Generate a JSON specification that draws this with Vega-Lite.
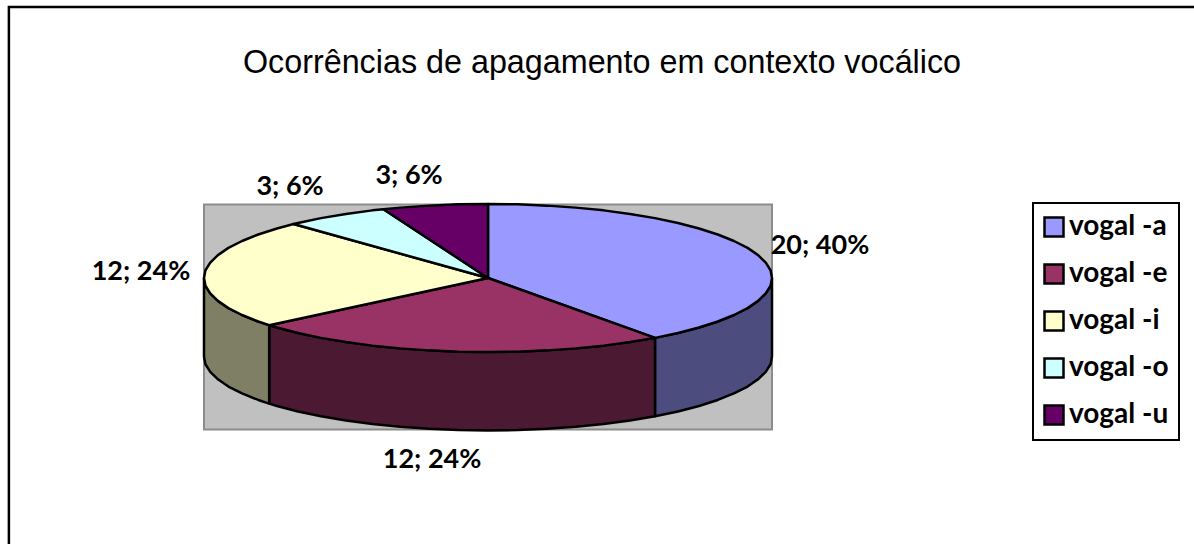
{"$schema":"https://vega.github.io/schema/vega-lite/v6.json","width":1194,"height":544,"autosize":{"type":"fit","contains":"padding"},"padding":0,"background":"white","config":{"view":{"stroke":null},"legend":{"strokeWidth":2}},
"title":{"text":"Ocorrências de apagamento em contexto vocálico","font":"Liberation Sans","fontSize":32.3,"fontWeight":"normal","color":"#000000","anchor":"middle","frame":"group","baseline":"bottom","offset":-72,"dx":5,"dy":40},
"datasets":{
"frame":[{"x0":-1.687,"x1":2.55,"y0":3.662,"y1":-3.8}],
"wall":[{"x0":-1,"x1":1,"y0":0.993,"y1":-2.047}],
"labels":[{"slice":"vogal -a","label":"20; 40%","x":1.169,"y":0.432},{"slice":"vogal -e","label":"12; 24%","x":-0.197,"y":-2.459},{"slice":"vogal -i","label":"12; 24%","x":-1.222,"y":0.081},{"slice":"vogal -o","label":"3; 6%","x":-0.697,"y":1.23},{"slice":"vogal -u","label":"3; 6%","x":-0.278,"y":1.378}],
"side":[
{"s":"vogal -a","i":1,"x":1,"y":0},{"s":"vogal -a","i":2,"x":0.995,"y":-0.105},{"s":"vogal -a","i":3,"x":0.978,"y":-0.208},{"s":"vogal -a","i":4,"x":0.951,"y":-0.309},{"s":"vogal -a","i":5,"x":0.914,"y":-0.407},{"s":"vogal -a","i":6,"x":0.866,"y":-0.5},{"s":"vogal -a","i":7,"x":0.809,"y":-0.588},{"s":"vogal -a","i":8,"x":0.743,"y":-0.669},{"s":"vogal -a","i":9,"x":0.669,"y":-0.743},{"s":"vogal -a","i":10,"x":0.588,"y":-0.809},
{"s":"vogal -a","i":11,"x":0.588,"y":-1.869},{"s":"vogal -a","i":12,"x":0.669,"y":-1.803},{"s":"vogal -a","i":13,"x":0.743,"y":-1.729},{"s":"vogal -a","i":14,"x":0.809,"y":-1.648},{"s":"vogal -a","i":15,"x":0.866,"y":-1.56},{"s":"vogal -a","i":16,"x":0.914,"y":-1.467},{"s":"vogal -a","i":17,"x":0.951,"y":-1.369},{"s":"vogal -a","i":18,"x":0.978,"y":-1.268},{"s":"vogal -a","i":19,"x":0.995,"y":-1.165},{"s":"vogal -a","i":20,"x":1,"y":-1.06},{"s":"vogal -a","i":21,"x":1,"y":0},
{"s":"vogal -e","i":1,"x":0.588,"y":-0.809},{"s":"vogal -e","i":2,"x":0.5,"y":-0.866},{"s":"vogal -e","i":3,"x":0.407,"y":-0.914},{"s":"vogal -e","i":4,"x":0.309,"y":-0.951},{"s":"vogal -e","i":5,"x":0.208,"y":-0.978},{"s":"vogal -e","i":6,"x":0.105,"y":-0.995},{"s":"vogal -e","i":7,"x":0,"y":-1},{"s":"vogal -e","i":8,"x":-0.105,"y":-0.995},{"s":"vogal -e","i":9,"x":-0.208,"y":-0.978},{"s":"vogal -e","i":10,"x":-0.309,"y":-0.951},{"s":"vogal -e","i":11,"x":-0.407,"y":-0.914},{"s":"vogal -e","i":12,"x":-0.5,"y":-0.866},{"s":"vogal -e","i":13,"x":-0.588,"y":-0.809},{"s":"vogal -e","i":14,"x":-0.669,"y":-0.743},{"s":"vogal -e","i":15,"x":-0.743,"y":-0.669},{"s":"vogal -e","i":16,"x":-0.7705,"y":-0.6374},
{"s":"vogal -e","i":17,"x":-0.7705,"y":-1.697},{"s":"vogal -e","i":18,"x":-0.743,"y":-1.729},{"s":"vogal -e","i":19,"x":-0.669,"y":-1.803},{"s":"vogal -e","i":20,"x":-0.588,"y":-1.869},{"s":"vogal -e","i":21,"x":-0.5,"y":-1.926},{"s":"vogal -e","i":22,"x":-0.407,"y":-1.974},{"s":"vogal -e","i":23,"x":-0.309,"y":-2.011},{"s":"vogal -e","i":24,"x":-0.208,"y":-2.038},{"s":"vogal -e","i":25,"x":-0.105,"y":-2.055},{"s":"vogal -e","i":26,"x":0,"y":-2.06},{"s":"vogal -e","i":27,"x":0.105,"y":-2.055},{"s":"vogal -e","i":28,"x":0.208,"y":-2.038},{"s":"vogal -e","i":29,"x":0.309,"y":-2.011},{"s":"vogal -e","i":30,"x":0.407,"y":-1.974},{"s":"vogal -e","i":31,"x":0.5,"y":-1.926},{"s":"vogal -e","i":32,"x":0.588,"y":-1.869},{"s":"vogal -e","i":33,"x":0.588,"y":-0.809},
{"s":"vogal -i","i":1,"x":-0.7705,"y":-0.6374},{"s":"vogal -i","i":2,"x":-0.809,"y":-0.588},{"s":"vogal -i","i":3,"x":-0.866,"y":-0.5},{"s":"vogal -i","i":4,"x":-0.914,"y":-0.407},{"s":"vogal -i","i":5,"x":-0.951,"y":-0.309},{"s":"vogal -i","i":6,"x":-0.978,"y":-0.208},{"s":"vogal -i","i":7,"x":-0.995,"y":-0.105},{"s":"vogal -i","i":8,"x":-1,"y":0},
{"s":"vogal -i","i":9,"x":-1,"y":-1.06},{"s":"vogal -i","i":10,"x":-0.995,"y":-1.165},{"s":"vogal -i","i":11,"x":-0.978,"y":-1.268},{"s":"vogal -i","i":12,"x":-0.951,"y":-1.369},{"s":"vogal -i","i":13,"x":-0.914,"y":-1.467},{"s":"vogal -i","i":14,"x":-0.866,"y":-1.56},{"s":"vogal -i","i":15,"x":-0.809,"y":-1.648},{"s":"vogal -i","i":16,"x":-0.7705,"y":-1.697},{"s":"vogal -i","i":17,"x":-0.7705,"y":-0.6374}
],
"top":[
{"s":"vogal -a","i":0,"x":0,"y":0},{"s":"vogal -a","i":1,"x":0,"y":1},{"s":"vogal -a","i":2,"x":0.105,"y":0.995},{"s":"vogal -a","i":3,"x":0.208,"y":0.978},{"s":"vogal -a","i":4,"x":0.309,"y":0.951},{"s":"vogal -a","i":5,"x":0.407,"y":0.914},{"s":"vogal -a","i":6,"x":0.5,"y":0.866},{"s":"vogal -a","i":7,"x":0.588,"y":0.809},{"s":"vogal -a","i":8,"x":0.669,"y":0.743},{"s":"vogal -a","i":9,"x":0.743,"y":0.669},{"s":"vogal -a","i":10,"x":0.809,"y":0.588},{"s":"vogal -a","i":11,"x":0.866,"y":0.5},{"s":"vogal -a","i":12,"x":0.914,"y":0.407},{"s":"vogal -a","i":13,"x":0.951,"y":0.309},{"s":"vogal -a","i":14,"x":0.978,"y":0.208},{"s":"vogal -a","i":15,"x":0.995,"y":0.105},{"s":"vogal -a","i":16,"x":1,"y":0},{"s":"vogal -a","i":17,"x":0.995,"y":-0.105},{"s":"vogal -a","i":18,"x":0.978,"y":-0.208},{"s":"vogal -a","i":19,"x":0.951,"y":-0.309},{"s":"vogal -a","i":20,"x":0.914,"y":-0.407},{"s":"vogal -a","i":21,"x":0.866,"y":-0.5},{"s":"vogal -a","i":22,"x":0.809,"y":-0.588},{"s":"vogal -a","i":23,"x":0.743,"y":-0.669},{"s":"vogal -a","i":24,"x":0.669,"y":-0.743},{"s":"vogal -a","i":25,"x":0.588,"y":-0.809},{"s":"vogal -a","i":26,"x":0,"y":0},
{"s":"vogal -e","i":0,"x":0,"y":0},{"s":"vogal -e","i":1,"x":0.588,"y":-0.809},{"s":"vogal -e","i":2,"x":0.5,"y":-0.866},{"s":"vogal -e","i":3,"x":0.407,"y":-0.914},{"s":"vogal -e","i":4,"x":0.309,"y":-0.951},{"s":"vogal -e","i":5,"x":0.208,"y":-0.978},{"s":"vogal -e","i":6,"x":0.105,"y":-0.995},{"s":"vogal -e","i":7,"x":0,"y":-1},{"s":"vogal -e","i":8,"x":-0.105,"y":-0.995},{"s":"vogal -e","i":9,"x":-0.208,"y":-0.978},{"s":"vogal -e","i":10,"x":-0.309,"y":-0.951},{"s":"vogal -e","i":11,"x":-0.407,"y":-0.914},{"s":"vogal -e","i":12,"x":-0.5,"y":-0.866},{"s":"vogal -e","i":13,"x":-0.588,"y":-0.809},{"s":"vogal -e","i":14,"x":-0.669,"y":-0.743},{"s":"vogal -e","i":15,"x":-0.743,"y":-0.669},{"s":"vogal -e","i":16,"x":-0.7705,"y":-0.6374},{"s":"vogal -e","i":17,"x":0,"y":0},
{"s":"vogal -i","i":0,"x":0,"y":0},{"s":"vogal -i","i":1,"x":-0.7705,"y":-0.6374},{"s":"vogal -i","i":2,"x":-0.809,"y":-0.588},{"s":"vogal -i","i":3,"x":-0.866,"y":-0.5},{"s":"vogal -i","i":4,"x":-0.914,"y":-0.407},{"s":"vogal -i","i":5,"x":-0.951,"y":-0.309},{"s":"vogal -i","i":6,"x":-0.978,"y":-0.208},{"s":"vogal -i","i":7,"x":-0.995,"y":-0.105},{"s":"vogal -i","i":8,"x":-1,"y":0},{"s":"vogal -i","i":9,"x":-0.995,"y":0.105},{"s":"vogal -i","i":10,"x":-0.978,"y":0.208},{"s":"vogal -i","i":11,"x":-0.951,"y":0.309},{"s":"vogal -i","i":12,"x":-0.914,"y":0.407},{"s":"vogal -i","i":13,"x":-0.866,"y":0.5},{"s":"vogal -i","i":14,"x":-0.809,"y":0.588},{"s":"vogal -i","i":15,"x":-0.743,"y":0.669},{"s":"vogal -i","i":16,"x":-0.6845,"y":0.729},{"s":"vogal -i","i":17,"x":0,"y":0},
{"s":"vogal -o","i":0,"x":0,"y":0},{"s":"vogal -o","i":1,"x":-0.6845,"y":0.729},{"s":"vogal -o","i":2,"x":-0.669,"y":0.743},{"s":"vogal -o","i":3,"x":-0.588,"y":0.809},{"s":"vogal -o","i":4,"x":-0.5,"y":0.866},{"s":"vogal -o","i":5,"x":-0.407,"y":0.914},{"s":"vogal -o","i":6,"x":-0.368,"y":0.93},{"s":"vogal -o","i":7,"x":0,"y":0},
{"s":"vogal -u","i":0,"x":0,"y":0},{"s":"vogal -u","i":1,"x":-0.368,"y":0.93},{"s":"vogal -u","i":2,"x":-0.309,"y":0.951},{"s":"vogal -u","i":3,"x":-0.208,"y":0.978},{"s":"vogal -u","i":4,"x":-0.105,"y":0.995},{"s":"vogal -u","i":5,"x":0,"y":1},{"s":"vogal -u","i":6,"x":0,"y":0}
]},
"resolve":{"scale":{"fill":"independent"}},
"layer":[
{"data":{"name":"frame"},"mark":{"type":"rect","fill":null,"stroke":"#000000","strokeWidth":2.5,"clip":true},"encoding":{"x":{"field":"x0","type":"quantitative","scale":{"domain":[-1.71831,2.48592],"nice":false,"zero":false},"axis":null},"x2":{"field":"x1"},"y":{"field":"y0","type":"quantitative","scale":{"domain":[-3.59459,3.75676],"nice":false,"zero":false},"axis":null},"y2":{"field":"y1"}}},
{"data":{"name":"wall"},"mark":{"type":"rect","fill":"#C0C0C0","stroke":"#8C8C8C","strokeWidth":2},"encoding":{"x":{"field":"x0","type":"quantitative","axis":null},"x2":{"field":"x1"},"y":{"field":"y0","type":"quantitative","axis":null},"y2":{"field":"y1"}}},
{"data":{"name":"side"},"mark":{"type":"line","stroke":"#000000","strokeWidth":2.5,"strokeJoin":"round","interpolate":"linear"},"encoding":{"x":{"field":"x","type":"quantitative","axis":null},"y":{"field":"y","type":"quantitative","axis":null},"order":{"field":"i","type":"quantitative"},"fill":{"field":"s","type":"nominal","legend":null,"scale":{"domain":["vogal -a","vogal -e","vogal -i"],"range":["#4C4C7F","#4C1933","#7F7F66"]}}}},
{"data":{"name":"top"},"mark":{"type":"line","stroke":"#000000","strokeWidth":2.5,"strokeJoin":"round","interpolate":"linear"},"encoding":{"x":{"field":"x","type":"quantitative","axis":null},"y":{"field":"y","type":"quantitative","axis":null},"order":{"field":"i","type":"quantitative"},"fill":{"field":"s","type":"nominal","scale":{"domain":["vogal -a","vogal -e","vogal -i","vogal -o","vogal -u"],"range":["#9999FF","#993366","#FFFFCC","#CCFFFF","#660066"]},"legend":{"title":null,"orient":"none","legendX":1033,"legendY":203,"padding":10,"strokeColor":"#000000","symbolType":"square","symbolSize":361,"symbolStrokeColor":"#000000","symbolStrokeWidth":2.5,"symbolOpacity":1,"symbolOffset":-3,"labelFont":"Lato","labelFontWeight":"bold","labelFontSize":28,"labelColor":"#000000","labelOffset":1,"rowPadding":17,"labelLimit":200}}}},
{"data":{"name":"labels"},"mark":{"type":"text","font":"Lato","fontWeight":"bold","fontSize":27,"color":"#000000","align":"center","baseline":"middle"},"encoding":{"x":{"field":"x","type":"quantitative","axis":null},"y":{"field":"y","type":"quantitative","axis":null},"text":{"field":"label","type":"nominal"}}}
]}
